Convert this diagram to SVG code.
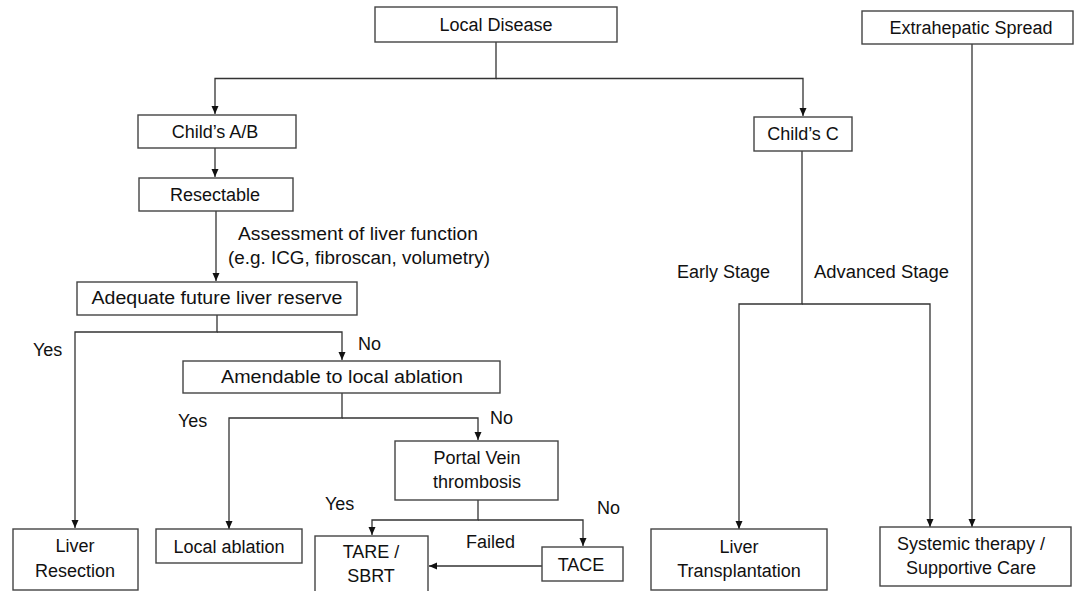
<svg xmlns="http://www.w3.org/2000/svg" width="1074" height="591" viewBox="0 0 1074 591">
<defs>
<style>
.box{fill:#fff;stroke:#444;stroke-width:1.4}
.t{font-family:"Liberation Sans",Arial,sans-serif;font-size:18px;fill:#111;text-anchor:middle}
.l{font-family:"Liberation Sans",Arial,sans-serif;font-size:18px;fill:#111}
.c{fill:none;stroke:#333;stroke-width:1.3}
</style>
<marker id="a" markerUnits="userSpaceOnUse" markerWidth="8" markerHeight="8" refX="8" refY="4" orient="auto" viewBox="0 0 8 8"><path d="M0,0.5 L8,4 L0,7.5 z" fill="#111"/></marker>
</defs>
<rect width="1074" height="591" fill="#fff"/>
<g id="connectors">
<path class="c" d="M496,42 V78.5 H215 V114" marker-end="url(#a)"/>
<path class="c" d="M496,78.5 H803 V116" marker-end="url(#a)"/>
<path class="c" d="M215,148 V177" marker-end="url(#a)"/>
<path class="c" d="M216,211 V281" marker-end="url(#a)"/>
<path class="c" d="M217,315 V332 H75 V528" marker-end="url(#a)"/>
<path class="c" d="M217,332 H342 V360" marker-end="url(#a)"/>
<path class="c" d="M342,393 V418 H229 V529" marker-end="url(#a)"/>
<path class="c" d="M342,418 H478 V440" marker-end="url(#a)"/>
<path class="c" d="M478,500 V520 H372 V535" marker-end="url(#a)"/>
<path class="c" d="M478,520 H583 V546" marker-end="url(#a)"/>
<path class="c" d="M542,566 H429" marker-end="url(#a)"/>
<path class="c" d="M802,151 V304 H739 V529" marker-end="url(#a)"/>
<path class="c" d="M802,304 H930 V527" marker-end="url(#a)"/>
<path class="c" d="M972,44 V527" marker-end="url(#a)"/>
</g>
<g id="labels">
<text class="l" x="238" y="240" textLength="240" lengthAdjust="spacingAndGlyphs">Assessment of liver function</text>
<text class="l" x="228" y="264" textLength="262" lengthAdjust="spacingAndGlyphs">(e.g. ICG, fibroscan, volumetry)</text>
<text class="l" x="33" y="356">Yes</text>
<text class="l" x="358" y="350">No</text>
<text class="l" x="178" y="427">Yes</text>
<text class="l" x="490" y="424">No</text>
<text class="l" x="325" y="510">Yes</text>
<text class="l" x="597" y="514">No</text>
<text class="l" x="466" y="548">Failed</text>
<text class="l" x="677" y="278">Early Stage</text>
<text class="l" x="814" y="278" textLength="135" lengthAdjust="spacingAndGlyphs">Advanced Stage</text>
</g>
<g id="local-disease"><rect class="box" x="375" y="7" width="242" height="35"/><text class="t" x="496" y="31">Local Disease</text></g>
<g id="extrahepatic"><rect class="box" x="862" y="11" width="211" height="33"/><text class="t" x="971" y="34">Extrahepatic Spread</text></g>
<g id="childs-ab"><rect class="box" x="138" y="115" width="158" height="33"/><text class="t" x="215" y="138">Child’s A/B</text></g>
<g id="childs-c"><rect class="box" x="754" y="117" width="98" height="34"/><text class="t" x="803" y="140">Child’s C</text></g>
<g id="resectable"><rect class="box" x="139" y="178" width="154" height="33"/><text class="t" x="215" y="201">Resectable</text></g>
<g id="adequate"><rect class="box" x="77" y="282" width="280" height="33"/><text class="t" x="217" y="304" textLength="251" lengthAdjust="spacingAndGlyphs">Adequate future liver reserve</text></g>
<g id="amendable"><rect class="box" x="183" y="361" width="317" height="32"/><text class="t" x="342" y="383" textLength="242" lengthAdjust="spacingAndGlyphs">Amendable to local ablation</text></g>
<g id="portal"><rect class="box" x="395" y="441" width="163" height="59"/><text class="t" x="477" y="464">Portal Vein</text><text class="t" x="477" y="488">thrombosis</text></g>
<g id="tace"><rect class="box" x="542" y="547" width="81" height="34"/><text class="t" x="581" y="571">TACE</text></g>
<g id="tare"><rect class="box" x="315" y="536" width="113" height="60"/><text class="t" x="371" y="558">TARE /</text><text class="t" x="371" y="582">SBRT</text></g>
<g id="liver-resection"><rect class="box" x="13" y="529" width="125" height="61"/><text class="t" x="75" y="552">Liver</text><text class="t" x="75" y="577">Resection</text></g>
<g id="local-ablation"><rect class="box" x="156" y="529" width="146" height="34"/><text class="t" x="229" y="553">Local ablation</text></g>
<g id="liver-transplant"><rect class="box" x="651" y="529" width="176" height="61"/><text class="t" x="739" y="553">Liver</text><text class="t" x="739" y="577">Transplantation</text></g>
<g id="systemic"><rect class="box" x="880" y="527" width="191" height="59"/><text class="t" x="971" y="550">Systemic therapy /</text><text class="t" x="971" y="574">Supportive Care</text></g>
</svg>
